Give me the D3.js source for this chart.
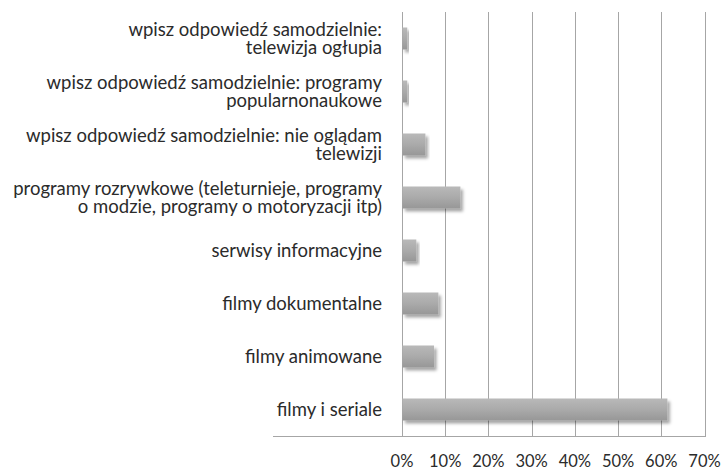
<!DOCTYPE html>
<html>
<head>
<meta charset="utf-8">
<script src="https://cdn.jsdelivr.net/npm/d3@7"></script>
<style>
  html, body { margin: 0; padding: 0; background: #fff; }
  svg { display: block; font-family: Lato, "Open Sans", sans-serif; }
  .cat-label { font-size: 18.5px; fill: #2b2b2b; }
  .tick-label { font-size: 16.5px; fill: #2b2b2b; }
</style>
</head>
<body>
<div id="chart"></div>
<script>
const categories = [
  ["wpisz odpowiedź samodzielnie:", "telewizja ogłupia"],
  ["wpisz odpowiedź samodzielnie: programy", "popularnonaukowe"],
  ["wpisz odpowiedź samodzielnie: nie oglądam", "telewizji"],
  ["programy rozrywkowe (teleturnieje, programy", "o modzie, programy o motoryzacji itp)"],
  ["serwisy informacyjne"],
  ["filmy dokumentalne"],
  ["filmy animowane"],
  ["filmy i seriale"],
];
const values = [0.011, 0.011, 0.053, 0.134, 0.032, 0.083, 0.073, 0.613];
const ticks = [0, 0.1, 0.2, 0.3, 0.4, 0.5, 0.6, 0.7];

const width = 723;
const height = 469;
const plot = { left: 402, right: 704.5, top: 12, bottom: 436 };
const axisLeftEdge = 273;

const svg = d3.select("#chart").append("svg")
  .attr("width", width)
  .attr("height", height);

const defs = svg.append("defs");
const grad = defs.append("linearGradient")
  .attr("id", "barGrad")
  .attr("x1", 0).attr("y1", 0).attr("x2", 0).attr("y2", 1);
grad.append("stop").attr("offset", "0%").attr("stop-color", "#b9b9b9");
grad.append("stop").attr("offset", "50%").attr("stop-color", "#aaaaaa");
grad.append("stop").attr("offset", "100%").attr("stop-color", "#979797");

const shadow = defs.append("filter")
  .attr("id", "shadow")
  .attr("x", "-10%").attr("y", "-30%")
  .attr("width", "130%").attr("height", "180%");
shadow.append("feDropShadow")
  .attr("dx", 2.5).attr("dy", 3)
  .attr("stdDeviation", 1.8)
  .attr("flood-color", "#000")
  .attr("flood-opacity", 0.35);

const x = d3.scaleLinear().domain([0, 0.7]).range([plot.left, plot.right]);
const y = d3.scaleBand()
  .domain(d3.range(categories.length))
  .range([plot.top, plot.bottom])
  .paddingInner(0.585)
  .paddingOuter(0.2925);

// vertical gridlines
svg.append("g")
  .selectAll("line")
  .data(ticks)
  .join("line")
  .attr("x1", (d) => Math.round(x(d)) + 0.5)
  .attr("x2", (d) => Math.round(x(d)) + 0.5)
  .attr("y1", plot.top)
  .attr("y2", plot.bottom)
  .attr("stroke", "#a6a6a6")
  .attr("stroke-width", 1);

// bottom axis line
svg.append("line")
  .attr("x1", axisLeftEdge)
  .attr("x2", Math.round(x(0.7)) + 1)
  .attr("y1", plot.bottom + 0.5)
  .attr("y2", plot.bottom + 0.5)
  .attr("stroke", "#a6a6a6");

// bars
svg.append("g")
  .selectAll("rect")
  .data(values)
  .join("rect")
  .attr("x", x(0) + 0.5)
  .attr("y", (d, i) => y(i))
  .attr("width", (d) => x(d) - x(0))
  .attr("height", y.bandwidth())
  .attr("fill", "url(#barGrad)")
  .attr("filter", "url(#shadow)");

// category labels
const lineH = 18;
svg.append("g")
  .selectAll("text")
  .data(categories)
  .join("text")
  .attr("class", "cat-label")
  .attr("text-anchor", "end")
  .each(function (lines, i) {
    const cy = y(i) + y.bandwidth() / 2;
    const first = cy - ((lines.length - 1) * lineH) / 2 + 6;
    d3.select(this)
      .selectAll("tspan")
      .data(lines)
      .join("tspan")
      .attr("x", 382)
      .attr("y", (l, j) => first + j * lineH)
      .text((l) => l);
  });

// tick labels
svg.append("g")
  .selectAll("text")
  .data(ticks)
  .join("text")
  .attr("class", "tick-label")
  .attr("x", (d) => x(d))
  .attr("y", 466.5)
  .attr("text-anchor", "middle")
  .text((d) => d3.format(".0%")(d));
</script>
</body>
</html>
